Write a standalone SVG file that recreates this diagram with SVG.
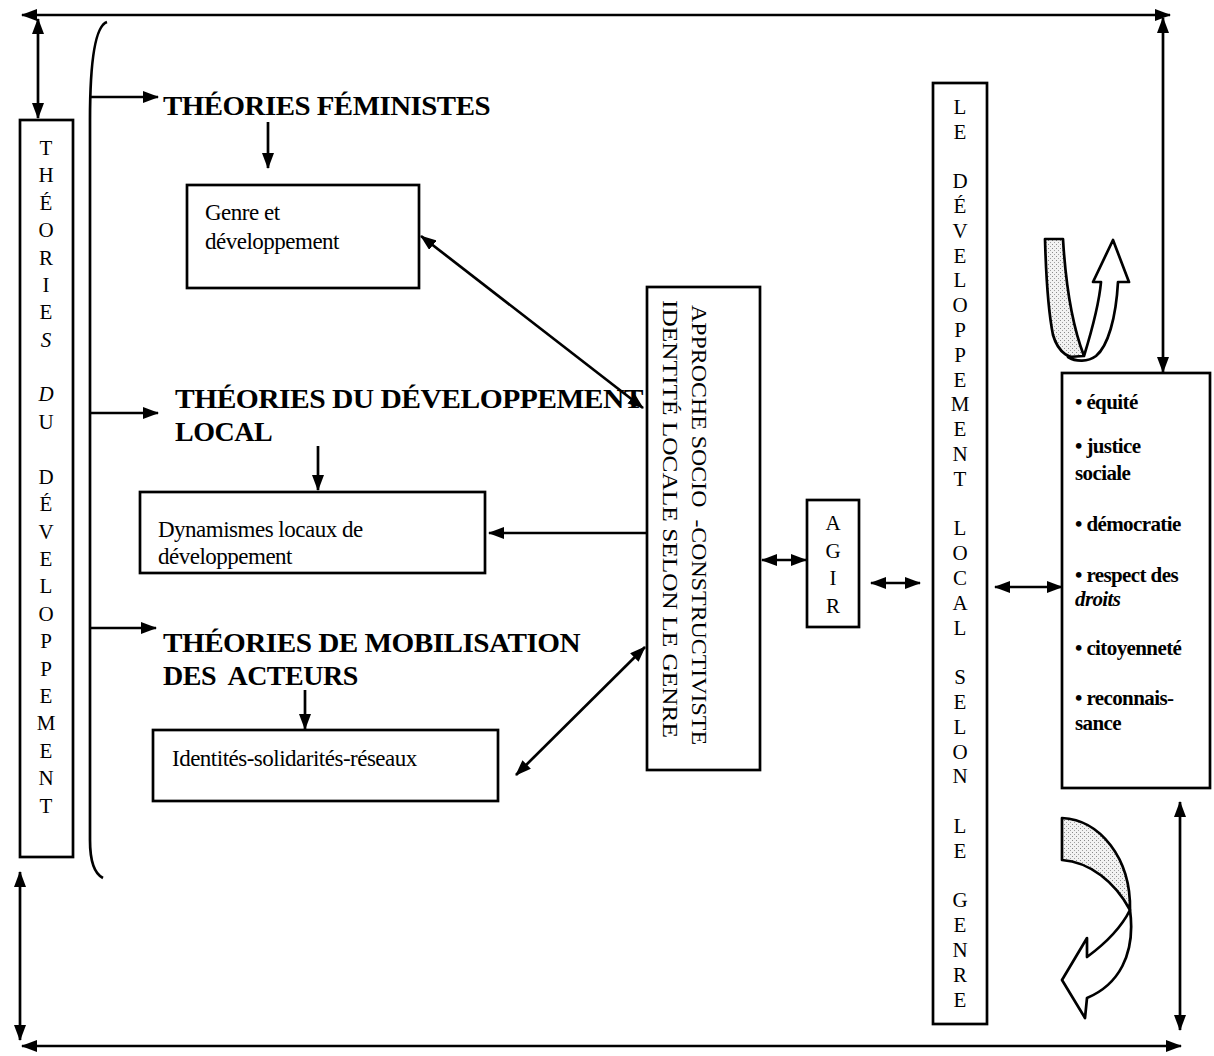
<svg xmlns="http://www.w3.org/2000/svg" width="1214" height="1056" viewBox="0 0 1214 1056">
<defs>
<marker id="ah" viewBox="0 0 16 12" refX="15" refY="6" markerWidth="16" markerHeight="12" markerUnits="userSpaceOnUse" orient="auto-start-reverse">
<path d="M0,0 L16,6 L0,12 Z" fill="#000"/>
</marker>
<pattern id="stip" width="4" height="4" patternUnits="userSpaceOnUse">
<rect width="4" height="4" fill="#f2f2f2"/>
<rect x="0" y="0" width="1" height="1" fill="#8a8a8a"/>
<rect x="2" y="2" width="1" height="1" fill="#a0a0a0"/>
</pattern>
<style>
.box{fill:#fff;stroke:#000;stroke-width:2.7}
.ln{fill:none;stroke:#000;stroke-width:2.7}
.a1{marker-end:url(#ah)}
.a2{marker-start:url(#ah);marker-end:url(#ah)}
.t{font-family:"Liberation Serif","Times New Roman",serif;fill:#000}
.ttl{font-family:"Liberation Serif","Times New Roman",serif;font-weight:bold;font-size:28px;letter-spacing:-0.5px;fill:#000}
.bx{font-family:"Liberation Serif","Times New Roman",serif;font-size:23px;letter-spacing:-0.5px;fill:#000}
.vl{font-family:"Liberation Serif","Times New Roman",serif;font-size:21px;text-anchor:middle;fill:#000}
.rb{font-family:"Liberation Serif","Times New Roman",serif;font-weight:bold;font-size:21px;letter-spacing:-0.6px;fill:#000}
.shade{fill:url(#stip);stroke:#000;stroke-width:2.7;stroke-linejoin:round}
.white{fill:#fff;stroke:#000;stroke-width:2.7;stroke-linejoin:round}
</style>
</defs>
<rect width="1214" height="1056" fill="#fff"/>

<g id="connectors">
<line class="ln a2" x1="22" y1="15" x2="1170" y2="15"/>
<line class="ln a2" x1="38" y1="19" x2="38" y2="118"/>
<line class="ln a2" x1="1163" y1="18" x2="1163" y2="372"/>
<line class="ln a2" x1="20" y1="872" x2="20" y2="1040"/>
<line class="ln a2" x1="22" y1="1046" x2="1181" y2="1046"/>
<line class="ln a2" x1="1180" y1="802" x2="1180" y2="1030"/>
<path class="ln" d="M107,22 C95,26 90,60 90,120 L90,840 C90,862 95,874 103,878"/>
<line class="ln a1" x1="90" y1="97" x2="158" y2="97"/>
<line class="ln a1" x1="90" y1="413" x2="158" y2="413"/>
<line class="ln a1" x1="90" y1="628" x2="156" y2="628"/>
<line class="ln a1" x1="268" y1="122" x2="268" y2="168"/>
<line class="ln a1" x1="318" y1="446" x2="318" y2="490"/>
<line class="ln a1" x1="305" y1="690" x2="305" y2="729"/>
<line class="ln a1" x1="647" y1="533" x2="489" y2="533"/>
<line class="ln a2" x1="421" y1="236" x2="643" y2="408"/>
<line class="ln a2" x1="516" y1="775" x2="645" y2="647"/>
<line class="ln a2" x1="762" y1="560" x2="806" y2="560"/>
<line class="ln a2" x1="871" y1="583" x2="920" y2="583"/>
<line class="ln a2" x1="995" y1="587" x2="1062" y2="587"/>
</g>

<g id="left-box">
<rect class="box" x="20" y="120" width="53" height="737"/>
<g class="vl">
<text x="46" y="155">T</text>
<text x="46" y="182">H</text>
<text x="46" y="210">É</text>
<text x="46" y="237">O</text>
<text x="46" y="265">R</text>
<text x="46" y="292">I</text>
<text x="46" y="319">E</text>
<text x="46" y="347" font-style="italic">S</text>
<text x="46" y="401" font-style="italic">D</text>
<text x="46" y="429">U</text>
<text x="46" y="484">D</text>
<text x="46" y="511">É</text>
<text x="46" y="539">V</text>
<text x="46" y="566">E</text>
<text x="46" y="593">L</text>
<text x="46" y="621">O</text>
<text x="46" y="648">P</text>
<text x="46" y="676">P</text>
<text x="46" y="703">E</text>
<text x="46" y="730">M</text>
<text x="46" y="758">E</text>
<text x="46" y="785">N</text>
<text x="46" y="813">T</text>
</g>
</g>

<g id="title-feministes">
<text class="ttl" x="163" y="115" textLength="327" lengthAdjust="spacingAndGlyphs">THÉORIES FÉMINISTES</text>
</g>
<g id="genre-box">
<rect class="box" x="187" y="185" width="232" height="103"/>
<text class="bx" x="205" y="220">Genre et</text>
<text class="bx" x="205" y="249">développement</text>
</g>

<g id="title-dev-local">
<text class="ttl" x="175" y="408" textLength="468" lengthAdjust="spacingAndGlyphs">THÉORIES DU DÉVELOPPEMENT</text>
<text class="ttl" x="175" y="441">LOCAL</text>
</g>
<g id="dynamismes-box">
<rect class="box" x="140" y="492" width="345" height="81"/>
<text class="bx" x="158" y="537">Dynamismes locaux de</text>
<text class="bx" x="158" y="564">développement</text>
</g>

<g id="title-mobilisation">
<text class="ttl" x="163" y="652" textLength="417" lengthAdjust="spacingAndGlyphs">THÉORIES DE MOBILISATION</text>
<text class="ttl" x="163" y="685" xml:space="preserve">DES  ACTEURS</text>
</g>
<g id="identites-box">
<rect class="box" x="153" y="730" width="345" height="71"/>
<text class="bx" x="172" y="766">Identités-solidarités-réseaux</text>
</g>

<g id="approche-box">
<rect class="box" x="647" y="287" width="113" height="483"/>
<text class="t" font-size="21" transform="translate(692,305) rotate(90)" textLength="440" lengthAdjust="spacingAndGlyphs" xml:space="preserve">APPROCHE SOCIO  -CONSTRUCTIVISTE</text>
<text class="t" font-size="21" transform="translate(663,300) rotate(90)" textLength="438" lengthAdjust="spacingAndGlyphs">IDENTITÉ LOCALE SELON LE GENRE</text>
</g>

<g id="agir-box">
<rect class="box" x="807" y="500" width="52" height="127"/>
<g class="vl">
<text x="833" y="530">A</text>
<text x="833" y="558">G</text>
<text x="833" y="585">I</text>
<text x="833" y="613">R</text>
</g>
</g>

<g id="dev-local-box">
<rect class="box" x="933" y="83" width="54" height="941"/>
<g class="vl">
<text x="960" y="114">L</text>
<text x="960" y="139">E</text>
<text x="960" y="188">D</text>
<text x="960" y="213">É</text>
<text x="960" y="238">V</text>
<text x="960" y="263">E</text>
<text x="960" y="287">L</text>
<text x="960" y="312">O</text>
<text x="960" y="337">P</text>
<text x="960" y="362">P</text>
<text x="960" y="387">E</text>
<text x="960" y="411">M</text>
<text x="960" y="436">E</text>
<text x="960" y="461">N</text>
<text x="960" y="486">T</text>
<text x="960" y="535">L</text>
<text x="960" y="560">O</text>
<text x="960" y="585">C</text>
<text x="960" y="610">A</text>
<text x="960" y="635">L</text>
<text x="960" y="684">S</text>
<text x="960" y="709">E</text>
<text x="960" y="734">L</text>
<text x="960" y="759">O</text>
<text x="960" y="783">N</text>
<text x="960" y="833">L</text>
<text x="960" y="858">E</text>
<text x="960" y="907">G</text>
<text x="960" y="932">E</text>
<text x="960" y="957">N</text>
<text x="960" y="982">R</text>
<text x="960" y="1007">E</text>
</g>
</g>

<g id="values-box">
<rect class="box" x="1062" y="373" width="148" height="415"/>
<g class="rb">
<text x="1075" y="409">• équité</text>
<text x="1075" y="453">• justice</text>
<text x="1075" y="480">sociale</text>
<text x="1075" y="531">• démocratie</text>
<text x="1075" y="582">• respect des</text>
<text x="1075" y="606" font-style="italic">droits</text>
<text x="1075" y="655">• citoyenneté</text>
<text x="1075" y="705">• reconnais-</text>
<text x="1075" y="730">sance</text>
</g>
</g>

<g id="u-arrow">
<path class="shade" d="M1045,239 L1063,239 C1066,290 1074,330 1084,356 C1070,362 1058,352 1053,335 C1048,310 1046,275 1045,239 Z"/>
<path class="white" d="M1084,356 C1092,330 1099,305 1101,282 L1093,282 L1113,240 L1129,282 L1118,282 C1116,318 1108,346 1096,356 C1088,362 1076,362 1068,357 Z"/>
</g>

<g id="curved-arrow">
<path class="shade" d="M1062,818 C1100,820 1131,858 1130,910 C1115,882 1090,862 1062,860 Z"/>
<path class="white" d="M1130,910 C1120,930 1102,946 1087,957 L1087,938 L1062,980 L1085,1018 L1087,998 C1118,985 1136,955 1130,910 Z"/>
</g>
</svg>
